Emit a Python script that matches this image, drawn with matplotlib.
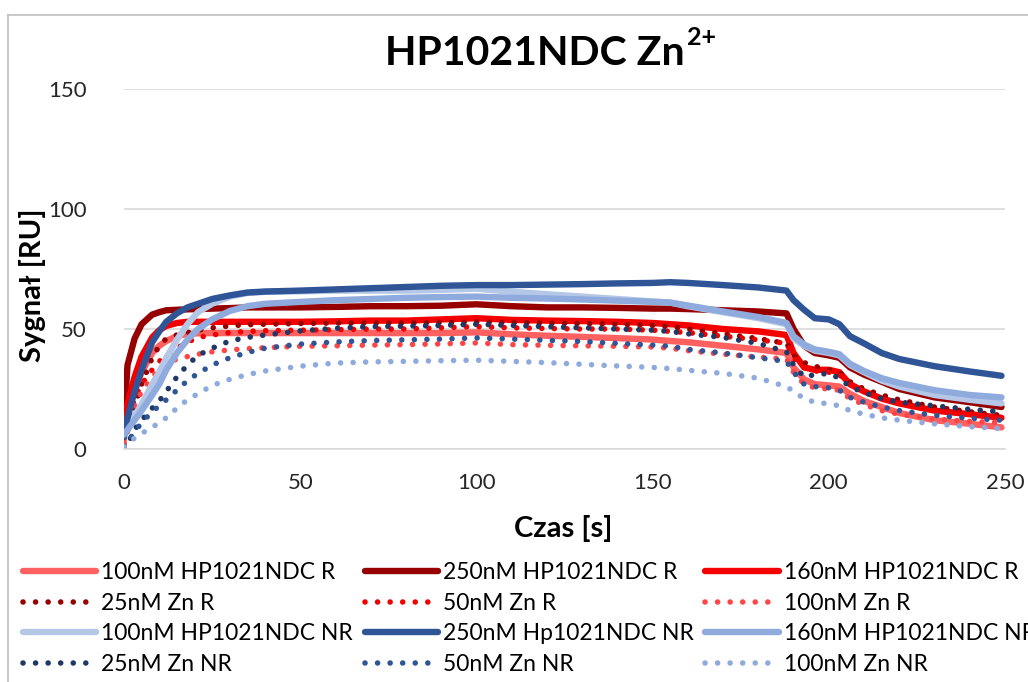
import matplotlib
matplotlib.use('Agg')
import matplotlib.pyplot as plt
from matplotlib.lines import Line2D

plt.rcParams['font.family'] = ['Lato', 'DejaVu Sans']

# time axis [s]
t = [0, 1, 3, 5, 8, 10, 12, 15, 18, 21, 25, 30, 35, 40, 50, 60, 70, 80, 90, 100,
     110, 120, 130, 140, 150, 155, 160, 170, 180, 188, 190, 193, 196, 200, 203,
     206, 210, 215, 220, 230, 240, 249]

hp100_r = [8, 16, 24, 32, 40, 43, 45, 47, 48, 48.2, 48.3, 48.3, 48.3, 48.3, 48.3, 48.3, 48.3, 48.3, 48.3, 48.6,
           47.8, 47.2, 46.7, 46.2, 45.6, 45, 44.5, 43, 41.5, 40, 34, 29, 27, 26.5, 26,
           23, 20, 17.5, 15, 12, 10.5, 9]
hp250_r = [12, 35, 46, 52, 56, 57, 57.8, 58, 58.2, 58.3, 58.5, 58.7, 59, 59, 59, 59.2, 59.5, 59.5, 59.7, 60.3,
           59.5, 59, 59, 58.8, 58.5, 58.5, 58.3, 57.8, 57.3, 56.5, 50, 43, 40, 39, 38,
           34, 31, 28, 25, 21.5, 19.5, 17.5]
hp160_r = [11, 19, 30, 38.5, 46.5, 49.5, 51.3, 52.5, 53, 53, 53, 53, 53, 53, 53, 53.2, 53.5, 53.5, 54, 54.5,
           53.8, 53.5, 53.3, 53, 52.5, 52, 51.5, 50, 49, 47.5, 40, 34, 33, 33, 32,
           27, 24, 21, 19, 16, 14.5, 13]
zn25_r = [2, 8, 18, 27, 38, 43, 46, 47.5, 48.5, 49.5, 50.5, 51.3, 51.8, 52, 52.3, 52.5, 52.5, 52.5, 52.7, 53,
          52.7, 52.5, 52.3, 52, 51.5, 51, 50, 48, 46, 44, 39, 36, 34.5, 33, 32,
          28, 25, 22.5, 20.5, 17.5, 15.5, 14]
zn50_r = [4, 9, 21, 27, 33, 36.5, 39, 42, 44.5, 46.5, 47.5, 48.5, 49, 49.3, 49.5, 49.7, 50, 50, 50.5, 51,
          50.5, 50.2, 50, 50, 49.5, 49, 48.5, 47, 45.5, 44, 38, 34, 32.5, 32, 31,
          27, 24, 21, 19, 16, 14.5, 13]
zn100_r = [3, 7, 18, 24, 30, 33, 35.5, 37.5, 38.5, 39.5, 40.5, 41.3, 41.8, 42.2, 42.8, 43, 43.3, 43.5, 43.8, 44.2,
           43.5, 43.2, 43, 42.8, 42.5, 42, 41, 39.5, 38.3, 37.5, 32, 27, 25.5, 25, 24.5,
           21, 18.5, 16, 14.5, 12.5, 11.5, 11]
hp100_nr = [7, 9, 14, 18.5, 27, 32, 38, 45.5, 52, 57, 60.5, 63.5, 65, 65.5, 65.7, 66, 66, 66, 66.3, 66.8,
            65.5, 64.5, 63.5, 62.5, 61.5, 61, 59.5, 57, 54.5, 52, 46, 43, 41, 40, 39,
            35, 32, 28.5, 26, 22.5, 20.5, 19]
hp250_nr = [5, 13, 24, 33, 44.5, 49, 53, 56.5, 59, 60.5, 62.5, 64, 65.2, 65.6, 66, 66.5, 67, 67.5, 68, 68.3,
            68.3, 68.5, 68.7, 69, 69.2, 69.5, 69.2, 68.3, 67.3, 66, 62, 58, 54.5, 54, 52,
            47, 44, 40, 37.5, 34.5, 32.3, 30.5]
hp160_nr = [6, 8, 12, 16, 22.5, 27, 33, 40, 45.5, 50, 54, 57.5, 59.5, 60.5, 61.3, 62, 62.5, 63, 63.3, 63.5,
            63, 62.7, 62.3, 61.8, 61.3, 61, 59.8, 57.3, 55, 52.5, 47, 43.5, 41.5, 40.5, 39.5,
            35.5, 32.5, 29.5, 27.5, 24.5, 22.5, 21.5]
zn25_nr = [0, 2, 8, 12, 17, 20, 24, 30, 35, 39, 42, 45, 46.5, 47.5, 49.2, 50.3, 51, 51.2, 51.5, 52,
           51.5, 51, 50.5, 50, 49.5, 49, 48, 46.5, 44, 40.5, 35, 30, 31, 31.5, 29.5,
           26, 23.5, 21, 19.5, 18, 16.5, 15.5]
zn50_nr = [1, 3, 7, 11, 15.5, 18, 20.5, 24.5, 28.5, 31.5, 35, 38, 40.2, 42, 43.7, 44.6, 45.2, 45.5, 45.8, 46.3,
           45.8, 45.3, 44.8, 44, 43.3, 42.8, 41.5, 40, 38, 36.5, 32, 27, 26, 25.5, 24.5,
           21.5, 19.5, 17.5, 16, 14, 12.8, 12]
zn100_nr = [1, 2.5, 4.5, 6.5, 9, 11, 13, 17, 20.5, 23, 26.5, 29, 31, 32.5, 34.5, 35.8, 36.3, 36.5, 36.8, 37,
            36.5, 36, 35.3, 34.6, 34, 33.5, 32.8, 31.5, 29.5, 26, 24, 21, 19.5, 18.8, 18,
            16, 14.5, 13, 12, 10.5, 9.3, 8.5]

series = [
    ('100nM HP1021NDC R', hp100_r, '#FF6060', 'solid'),
    ('250nM HP1021NDC R', hp250_r, '#960000', 'solid'),
    ('160nM HP1021NDC R', hp160_r, '#F50000', 'solid'),
    ('25nM Zn R', zn25_r, '#960000', 'dot'),
    ('50nM Zn R', zn50_r, '#F00000', 'dot'),
    ('100nM Zn R', zn100_r, '#FF4545', 'dot'),
    ('100nM HP1021NDC NR', hp100_nr, '#B4C7E7', 'solid'),
    ('250nM Hp1021NDC NR', hp250_nr, '#2F5597', 'solid'),
    ('160nM HP1021NDC NR', hp160_nr, '#8FAADC', 'solid'),
    ('25nM Zn NR', zn25_nr, '#1F3864', 'dot'),
    ('50nM Zn NR', zn50_nr, '#2F5597', 'dot'),
    ('100nM Zn NR', zn100_nr, '#8FAADC', 'dot'),
]

fig = plt.figure(figsize=(10.28, 6.82), dpi=100)
ax = fig.add_axes([124 / 1028, 1 - 449 / 682, 881 / 1028, 360 / 682])

lines = []
for name, vals, col, style in series:
    if style == 'solid':
        ln, = ax.plot(t, vals, color=col, lw=4.6, solid_joinstyle='round',
                      solid_capstyle='round', label=name)
    else:
        ln, = ax.plot(t, vals, color=col, lw=4.0, linestyle=(0, (0.01, 2.25)),
                      dash_capstyle='round', label=name)
    lines.append(ln)

ax.set_xlim(0, 250)
ax.set_ylim(0, 150)
ax.set_xticks([0, 50, 100, 150, 200, 250])
ax.set_yticks([0, 50, 100, 150])
ax.grid(axis='y', color='#D9D9D9', lw=1.2)
ax.set_axisbelow(True)
for s in ['top', 'right', 'left']:
    ax.spines[s].set_visible(False)
ax.spines['bottom'].set_color('#D9D9D9')
ax.spines['bottom'].set_linewidth(1.2)
ax.tick_params(length=0, labelsize=16, colors='#262626', pad=17)
ax.tick_params(axis='y', pad=27)

# title with superscript
ttl = fig.text(385 / 1028, 1 - 65 / 682, 'HP1021NDC Zn', ha='left', va='baseline',
               fontsize=29.5, fontweight='bold')
fig.canvas.draw()
bb = ttl.get_window_extent(renderer=fig.canvas.get_renderer())
fig.text((bb.x1 + 2) / 1028, 1 - 45 / 682, '2+', ha='left', va='baseline',
         fontsize=18, fontweight='bold')

fig.text(563 / 1028, 1 - 529 / 682, 'Czas [s]', ha='center', va='center',
         fontsize=21, fontweight='bold')
fig.text(33 / 1028, 1 - 285 / 682, 'Sygnał [RU]', ha='center', va='center',
         rotation=90, fontsize=21, fontweight='bold')

# legend filled row by row like the original
order = [0, 3, 6, 9, 1, 4, 7, 10, 2, 5, 8, 11]
fig.legend([lines[i] for i in order], [series[i][0] for i in order],
           loc='upper left', bbox_to_anchor=(23 / 1028, 1 - 562 / 682), ncol=3,
           frameon=False, fontsize=16.5, handlelength=3.2, handletextpad=0.22,
           columnspacing=0.5, labelspacing=0.42, borderaxespad=0, borderpad=0)

# chart frame
fig.add_artist(Line2D([8 / 1028, 8 / 1028], [0, 1 - 15 / 682], color='#BFBFBF', lw=1.2))
fig.add_artist(Line2D([8 / 1028, 1], [1 - 15 / 682, 1 - 15 / 682], color='#BFBFBF', lw=1.2))

fig.savefig('out.png', dpi=100)
